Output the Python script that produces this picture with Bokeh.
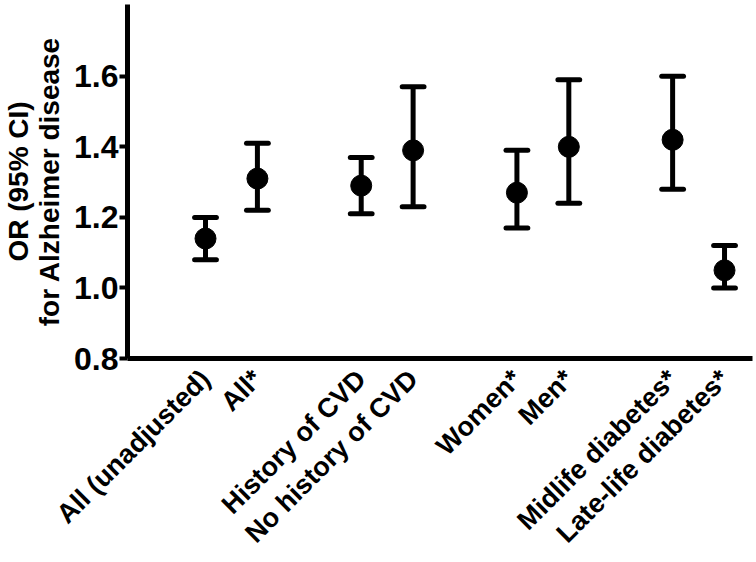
import math
from bokeh.plotting import figure
from bokeh.models import FixedTicker, Range1d, ColumnDataSource, PrintfTickFormatter
from bokeh.embed import file_html
from bokeh.resources import INLINE

# ---- data ----
categories = ["All (unadjusted)", "All*", "History of CVD", "No history of CVD",
              "Women*", "Men*", "Midlife diabetes*", "Late-life diabetes*"]
positions = [1, 2, 4, 5, 7, 8, 10, 11]
or_values = [1.14, 1.31, 1.29, 1.39, 1.27, 1.40, 1.42, 1.05]
ci_lower = [1.08, 1.22, 1.21, 1.23, 1.17, 1.24, 1.28, 1.00]
ci_upper = [1.20, 1.41, 1.37, 1.57, 1.39, 1.59, 1.60, 1.12]
y_ticks = [0.8, 1.0, 1.2, 1.4, 1.6]
y_title = "OR (95% CI)\nfor Alzheimer disease"

FONT = "Liberation Sans"
cap_half = 0.21

src = ColumnDataSource(dict(
    x=positions, y=or_values, lo=ci_lower, hi=ci_upper,
    x0=[v - cap_half for v in positions], x1=[v + cap_half for v in positions],
))

p = figure(width=756, height=562, output_backend="svg", toolbar_location=None,
           x_range=Range1d(-0.503, 11.539), y_range=Range1d(0.8, 1.8035),
           min_border_left=127, min_border_right=4, min_border_top=4,
           min_border_bottom=203)
p.outline_line_color = None
p.xgrid.visible = False
p.ygrid.visible = False
p.background_fill_color = "white"
p.border_fill_color = "white"

# error bars
p.segment(x0="x", y0="lo", x1="x", y1="hi", source=src, line_color="black", line_width=5)
p.segment(x0="x0", y0="lo", x1="x1", y1="lo", source=src, line_color="black",
          line_width=5, line_cap="round")
p.segment(x0="x0", y0="hi", x1="x1", y1="hi", source=src, line_color="black",
          line_width=5, line_cap="round")
p.scatter(x="x", y="y", source=src, size=21, marker="circle",
          fill_color="black", line_color="black")

# y axis
ya = p.yaxis[0]
ya.ticker = FixedTicker(ticks=y_ticks)
ya.formatter = PrintfTickFormatter(format="%.1f")
ya.axis_line_width = 5
ya.axis_line_color = "black"
ya.major_tick_line_width = 4
ya.major_tick_out = 8
ya.major_tick_in = 0
ya.minor_tick_line_color = None
ya.major_label_standoff = 1
ya.major_label_text_font = FONT
ya.major_label_text_font_style = "bold"
ya.major_label_text_font_size = "32px"
ya.major_label_text_color = "black"
ya.axis_label = y_title
ya.axis_label_standoff = 6
ya.axis_label_text_font = FONT
ya.axis_label_text_font_style = "bold"
ya.axis_label_text_font_size = "28px"
ya.axis_label_text_color = "black"
ya.axis_label_text_line_height = 1.0

# x axis
xa = p.xaxis[0]
xa.ticker = FixedTicker(ticks=positions)
xa.major_label_overrides = {pos: lab for pos, lab in zip(positions, categories)}
xa.major_label_orientation = math.pi / 4
xa.axis_line_width = 5
xa.axis_line_color = "black"
xa.major_tick_line_color = None
xa.major_tick_out = 0
xa.major_tick_in = 0
xa.minor_tick_line_color = None
xa.major_label_standoff = 16
xa.major_label_text_font = FONT
xa.major_label_text_font_style = "bold"
xa.major_label_text_font_size = "27px"
xa.major_label_text_color = "black"

open("out.html", "w").write(file_html(p, INLINE))
